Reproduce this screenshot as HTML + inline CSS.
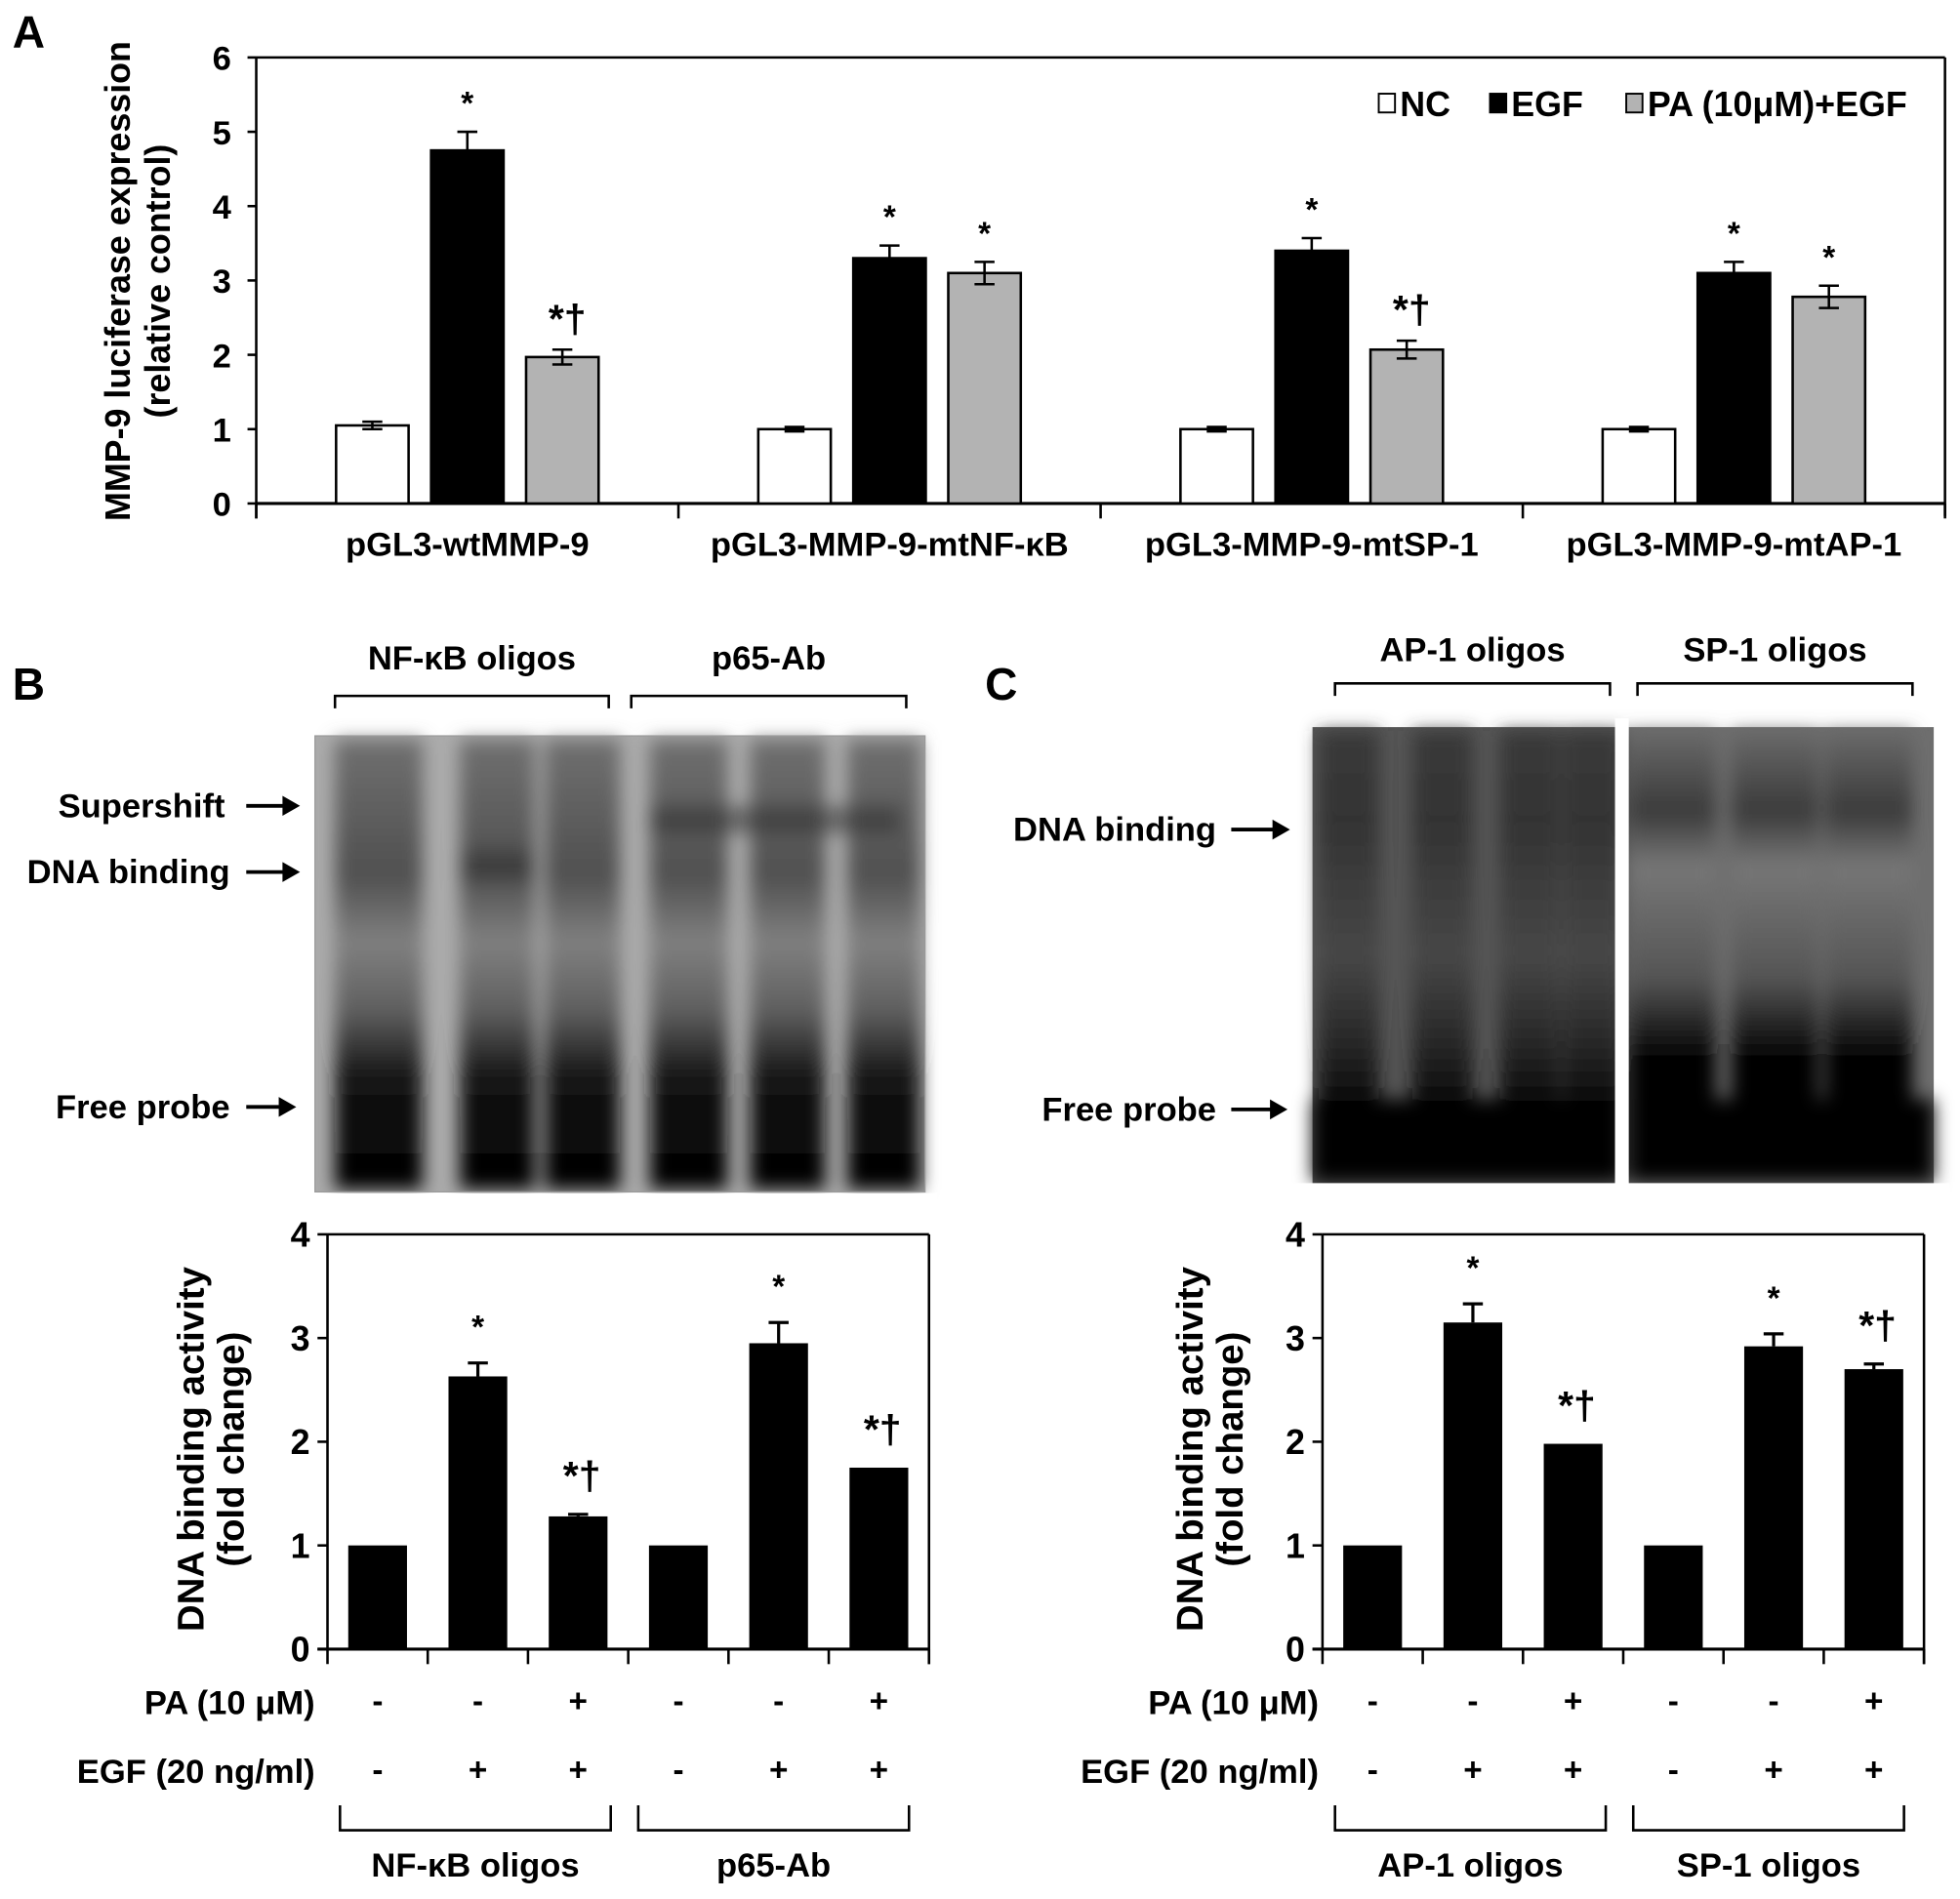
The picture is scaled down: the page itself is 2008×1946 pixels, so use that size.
<!DOCTYPE html>
<html><head><meta charset="utf-8"><style>
html,body{margin:0;padding:0;background:#fff}
svg{display:block}
text{font-family:"Liberation Sans Narrow","Liberation Sans",sans-serif;font-weight:bold;fill:#000}
.ttl{font-family:"Liberation Sans",sans-serif}
</style></head><body>
<svg id="fig" xmlns="http://www.w3.org/2000/svg" width="2008" height="1946" viewBox="0 0 1568 1520" preserveAspectRatio="none">
<defs>
<filter id="blur" x="-10%" y="-10%" width="120%" height="120%"><feGaussianBlur stdDeviation="7"/></filter>
<linearGradient id="laneB" x1="0" y1="0" x2="0" y2="1">
<stop offset="0" stop-color="#707070"/><stop offset="0.15" stop-color="#606060"/><stop offset="0.3" stop-color="#505050"/><stop offset="0.45" stop-color="#808080"/><stop offset="0.6" stop-color="#606060"/><stop offset="0.75" stop-color="#151515"/><stop offset="1" stop-color="#000"/></linearGradient>
<linearGradient id="laneC1" x1="0" y1="0" x2="0" y2="1">
<stop offset="0" stop-color="#3a3a3a"/><stop offset="0.2" stop-color="#333"/><stop offset="0.5" stop-color="#474747"/><stop offset="0.7" stop-color="#262626"/><stop offset="0.85" stop-color="#050505"/><stop offset="1" stop-color="#000"/></linearGradient>
<linearGradient id="laneC2" x1="0" y1="0" x2="0" y2="1">
<stop offset="0" stop-color="#6a6a6a"/><stop offset="0.18" stop-color="#3a3a3a"/><stop offset="0.3" stop-color="#777"/><stop offset="0.55" stop-color="#555"/><stop offset="0.72" stop-color="#050505"/><stop offset="1" stop-color="#000"/></linearGradient>
</defs>

<text x="10" y="38" font-size="36" class="ttl">A</text>
<text x="10" y="560" font-size="36" class="ttl">B</text>
<text x="788" y="560" font-size="36" class="ttl">C</text>

<g id="chartA"></g>
<g id="gels"></g>
<g id="chartB"></g>
<g id="chartC"></g>
</svg>
<script>
// ---- Chart A data ----
const aCategories = ["pGL3-wtMMP-9","pGL3-MMP-9-mtNF-\u03baB","pGL3-MMP-9-mtSP-1","pGL3-MMP-9-mtAP-1"];
const aSeriesNames = ["NC","EGF","PA (10\u03bcM)+EGF"];
const aNC = [1.05, 1.0, 1.0, 1.0];
const aNCErr = [0.05, 0.03, 0.03, 0.03];
const aEGF = [4.75, 3.3, 3.4, 3.1];
const aEGFErr = [0.25, 0.17, 0.17, 0.15];
const aPA = [1.97, 3.1, 2.07, 2.78];
const aPAErr = [0.1, 0.15, 0.12, 0.15];
const aEGFMarks = ["*","*","*","*"];
const aPAMarks = ["*\u2020","*","*\u2020","*"];
const aTicks = [0,1,2,3,4,5,6];
// ---- Chart B data ----
const bValues = [1, 2.63, 1.28, 1, 2.95, 1.75];
const bErr = [0, 0.13, 0.02, 0, 0.2, 0];
const bMarks = ["", "*", "*\u2020", "", "*", "*\u2020"];
const bPA = ["-","-","+","-","-","+"];
const bEGF = ["-","+","+","-","+","+"];
const bGroups = ["NF-\u03baB oligos","p65-Ab"];
// ---- Chart C data ----
const cValues = [1, 3.15, 1.98, 1, 2.92, 2.7];
const cErr = [0, 0.18, 0, 0, 0.12, 0.05];
const cMarks = ["", "*", "*\u2020", "", "*", "*\u2020"];
const cPA = ["-","-","+","-","-","+"];
const cEGF = ["-","+","+","-","+","+"];
const cGroups = ["AP-1 oligos","SP-1 oligos"];
const bcTicks = [0,1,2,3,4];

const NS = "http://www.w3.org/2000/svg";
function mk(parent, tag, attrs, txt){
  const e = document.createElementNS(NS, tag);
  for (const k in attrs) e.setAttribute(k, attrs[k]);
  if (txt !== undefined) e.textContent = txt;
  parent.appendChild(e);
  return e;
}
function line(p,x1,y1,x2,y2,w){ return mk(p,"line",{x1,y1,x2,y2,stroke:"#000","stroke-width":w||2}); }

// ===== Chart A =====
(function(){
  const g = document.getElementById("chartA");
  const x0 = 205, x1 = 1556, y0 = 403, yTop = 46;
  const y = v => y0 - v*(y0-yTop)/6;
  const gw = (x1-x0)/4;
  const center = (gi, si) => x0 + gw*gi + gw/2 + (si-1)*76;
  let e;
  e = line(g,x0,yTop,x1,yTop,2);  
  e = line(g,x1,yTop,x1,y0+10,2);  
  e = line(g,x0,yTop,x0,y0+12,2);  
  e = line(g,x0,y0,x1,y0,2.5);  
  aTicks.forEach(t=>{
    line(g,x0-7,y(t),x0,y(t),2);
    e = mk(g,"text",{x:x0-20,y:y(t)+10,"font-size":27,"text-anchor":"end"},String(t));
     
  });
  for (let i=0;i<=4;i++) line(g,x0+gw*i,y0,x0+gw*i,y0+12,2);
  const series = [[aNC,aNCErr,"#fff"],[aEGF,aEGFErr,"#000"],[aPA,aPAErr,"#b3b3b3"]];
  aCategories.forEach((c,gi)=>{
    series.forEach((s,si)=>{
      const v = s[0][gi], er = s[1][gi], cx = center(gi,si);
      e = mk(g,"rect",{x:cx-29,y:y(v),width:58,height:y0-y(v),fill:s[2],stroke:"#000","stroke-width":2});
       
      line(g,cx,y(v+er),cx,si===1?y(v):y(v-er),2);
      line(g,cx-8,y(v+er),cx+8,y(v+er),2);
      if (si!==1) line(g,cx-8,y(v-er),cx+8,y(v-er),2);
    });
    let cx = center(gi,1);
    e = mk(g,"text",{x:cx,y:y(aEGF[gi]+aEGFErr[gi])-14,"font-size":26,"text-anchor":"middle"},aEGFMarks[gi]);
     
    cx = center(gi,2);
    const dag = aPAMarks[gi].length>1;
    e = mk(g,"text",{x:cx+(dag?4:0),y:y(aPA[gi]+aPAErr[gi])-(dag?14:14),"font-size":dag?32:26,"text-anchor":"middle"},aPAMarks[gi]);
     
    e = mk(g,"text",{x:x0+gw*gi+gw/2,y:445,"font-size":27,"text-anchor":"middle"},c);
     
  });
  // legend
  const leg = [[1103,"#fff"],[1192,"#000"],[1301,"#b3b3b3"]];
  leg.forEach((l,i)=>{
    e = mk(g,"rect",{x:l[0],y:75,width:13,height:15,fill:l[1],stroke:"#000","stroke-width":1.5});
     
    e = mk(g,"text",{x:l[0]+17,y:93,"font-size":28},aSeriesNames[i]);
     
  });
  e = mk(g,"text",{x:0,y:0,"font-size":28,"text-anchor":"middle",class:"ttl",transform:"translate(104,225) rotate(-90)"},"MMP-9 luciferase expression");
   
  e = mk(g,"text",{x:0,y:0,"font-size":28,"text-anchor":"middle",class:"ttl",transform:"translate(136,225) rotate(-90)"},"(relative control)");
   
})();

// ===== Gels =====
(function(){
  const g = document.getElementById("gels");
  let e;
  function bracket(x1,x2,yy,down,label,ly){
    const d = down ? 10 : -18;
    mk(g,"path",{d:`M${x1},${yy+d} L${x1},${yy} L${x2},${yy} L${x2},${yy+d}`,fill:"none",stroke:"#000","stroke-width":2});
    const t = mk(g,"text",{x:(x1+x2)/2,y:ly,"font-size":27,"text-anchor":"middle"},label);
     
  }
  function arrowLabel(txt,xr,ax1,ax2,yy){
    const t = mk(g,"text",{x:xr,y:yy+9,"font-size":27,"text-anchor":"end"},txt);
     
    line(g,ax1,yy,ax2-10,yy,3);
    mk(g,"path",{d:`M${ax2-14},${yy-8} L${ax2},${yy} L${ax2-14},${yy+8} Z`,fill:"#000"});
  }
  bracket(268,487,557,true,"NF-\u03baB oligos",536);
  bracket(505,725,557,true,"p65-Ab",536);
  bracket(1068,1288,547,true,"AP-1 oligos",529);
  bracket(1310,1530,547,true,"SP-1 oligos",529);
  // gel B
  e = mk(g,"rect",{x:252,y:589,width:488,height:365,fill:"#ababab"});
   
  const gb = mk(g,"g",{filter:"url(#blur)"});
  [[268,70],[368,60],[436,60],[520,62],[600,60],[678,58]].forEach(l=>{
    mk(gb,"rect",{x:l[0],y:592,width:l[1],height:360,fill:"url(#laneB)"});
  });
  mk(gb,"rect",{x:520,y:645,width:200,height:22,fill:"#2a2a2a",opacity:0.5});
  mk(gb,"rect",{x:370,y:680,width:55,height:25,fill:"#222",opacity:0.4});
  mk(g,"rect",{x:252,y:589,width:488,height:365,fill:"none",stroke:"#999","stroke-width":1});
  // gel C
  e = mk(g,"rect",{x:1050,y:582,width:242,height:365,fill:"#555"});
   
  e = mk(g,"rect",{x:1303,y:582,width:244,height:365,fill:"#6e6e6e"});
   
  const gc = mk(g,"g",{filter:"url(#blur)"});
  [1055,1130,1200,1250].forEach(x=>mk(gc,"rect",{x:x,y:585,width:48,height:360,fill:"url(#laneC1)"}));
  [1303,1385,1460].forEach(x=>mk(gc,"rect",{x:x,y:585,width:70,height:360,fill:"url(#laneC2)"}));
  mk(gc,"rect",{x:1050,y:880,width:242,height:66,fill:"#000"});
  mk(gc,"rect",{x:1303,y:880,width:244,height:66,fill:"#000"});
  mk(g,"rect",{x:1292,y:575,width:11,height:380,fill:"#fff"});
  mk(g,"rect",{x:1000,y:947,width:560,height:20,fill:"#fff"});
  mk(g,"rect",{x:240,y:955,width:510,height:20,fill:"#fff"});
  arrowLabel("Supershift",180,197,240,645);
  arrowLabel("DNA binding",184,197,240,698);
  arrowLabel("Free probe",184,197,237,886);
  arrowLabel("DNA binding",973,985,1032,664);
  arrowLabel("Free probe",973,985,1030,888);
})();

// ===== Charts B & C =====
function barChart(gid, x0, vals, errs, marks, pa, egf, groups, labelRight, titleX){
  const g = document.getElementById(gid);
  const y0 = 1320, yTop = 988, slot = 80.2, x1 = x0 + slot*6;
  const y = v => y0 - v*(y0-yTop)/4;
  const cx = i => x0 + slot*i + slot/2;
  let e;
  e = line(g,x0,yTop,x1,yTop,2);  
  e = line(g,x1,yTop,x1,y0+12,2);  
  e = line(g,x0,yTop,x0,y0+12,2);  
  e = line(g,x0-8,y0,x1,y0,2.5);  
  bcTicks.forEach(t=>{
    line(g,x0-8,y(t),x0,y(t),2);
    e = mk(g,"text",{x:x0-14,y:y(t)+10,"font-size":28,"text-anchor":"end"},String(t));
     
  });
  for (let i=1;i<=6;i++) line(g,x0+slot*i,y0,x0+slot*i,y0+12,2);
  vals.forEach((v,i)=>{
    const c = cx(i);
    e = mk(g,"rect",{x:c-23.5,y:y(v),width:47,height:y0-y(v),fill:"#000"});
     
    if (errs[i]>0){ line(g,c,y(v+errs[i]),c,y(v),2.5); line(g,c-8,y(v+errs[i]),c+8,y(v+errs[i]),2.5); }
    if (marks[i]){
      const dag = marks[i].length>1;
      e = mk(g,"text",{x:c+(dag?3:0),y:y(v+errs[i])-(dag?20:20),"font-size":dag?32:26,"text-anchor":"middle"},marks[i]);
       
    }
    e = mk(g,"text",{x:c,y:1370,"font-size":26,"text-anchor":"middle"},pa[i]);
     
    e = mk(g,"text",{x:c,y:1425,"font-size":26,"text-anchor":"middle"},egf[i]);
     
  });
  e = mk(g,"text",{x:labelRight,y:1372,"font-size":27,"text-anchor":"end"},"PA (10 \u03bcM)");
   
  e = mk(g,"text",{x:labelRight,y:1427,"font-size":27,"text-anchor":"end"},"EGF (20 ng/ml)");
   
  groups.forEach((lab,k)=>{
    const a = k===0 ? x0 + 10 : x0 + slot*3 + 8;
    const b = k===0 ? x0 + slot*3 - 14 : x0 + slot*6 - 16;
    mk(g,"path",{d:`M${a},1445 L${a},1465 L${b},1465 L${b},1445`,fill:"none",stroke:"#000","stroke-width":2});
    e = mk(g,"text",{x:(a+b)/2,y:1502,"font-size":27,"text-anchor":"middle",class:"ttl"},lab);
     
  });
  e = mk(g,"text",{x:0,y:0,"font-size":30,"text-anchor":"middle",class:"ttl",transform:`translate(${titleX},1160) rotate(-90)`},"DNA binding activity");
   
  e = mk(g,"text",{x:0,y:0,"font-size":30,"text-anchor":"middle",class:"ttl",transform:`translate(${titleX+32},1160) rotate(-90)`},"(fold change)");
   
}
barChart("chartB",262,bValues,bErr,bMarks,bPA,bEGF,bGroups,252,163);
barChart("chartC",1058,cValues,cErr,cMarks,cPA,cEGF,cGroups,1055,962);
</script>
</body></html>
